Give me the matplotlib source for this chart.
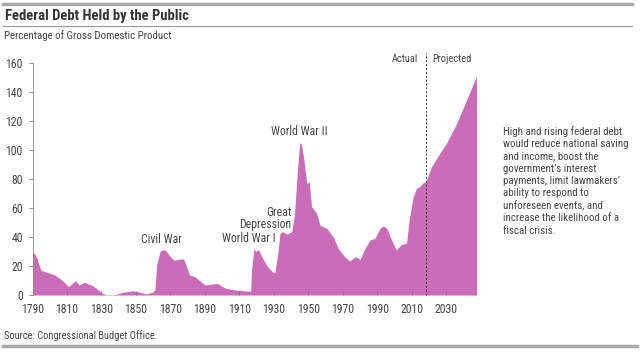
import matplotlib
matplotlib.use("Agg")
import matplotlib.pyplot as plt
from matplotlib.lines import Line2D
from matplotlib import font_manager as fm

available = {f.name for f in fm.fontManager.ttflist}
base_font = 'Roboto'
for cand in ['Roboto Condensed', 'Liberation Sans Narrow', 'Archivo Narrow', 'PT Sans Narrow',
             'Open Sans Condensed', 'Roboto']:
    if cand in available:
        base_font = cand
        break
plt.rcParams['font.family'] = [base_font, 'DejaVu Sans']

years = [1790, 1792, 1794, 1795, 1800, 1803, 1807, 1811, 1813, 1815, 1817, 1820, 1824, 1827,
         1830, 1833, 1838, 1842, 1846, 1848, 1852, 1856, 1860, 1861, 1862, 1864, 1865, 1867,
         1870, 1872, 1877, 1878, 1881, 1884, 1890, 1894, 1897, 1902, 1908, 1915, 1916.5, 1917,
         1918.4, 1919.8, 1921, 1923, 1926, 1929, 1930.6, 1932.5, 1933.5, 1935, 1937.4, 1940.3,
         1942, 1943.5, 1945, 1946, 1947.4, 1949, 1950.5, 1951.8, 1954.7, 1956.7, 1960.6,
         1964.4, 1967.3, 1971, 1974, 1977, 1980, 1982.8, 1985.7, 1988.6, 1991.5, 1993.4,
         1995.4, 1998.2, 2001, 2004, 2006.9, 2008.4, 2010.8, 2012.7, 2014.6, 2016.5, 2018,
         2021.4, 2026.2, 2030, 2036, 2041.7, 2047.5]
debt = [30, 27, 20, 17, 15, 13.8, 10.3, 5.7, 8, 9.9, 6.9, 8.7, 6.9, 4.6,
        1.4, 0.2, 0.3, 1.8, 2.5, 3, 2, 0.8, 2, 4, 21, 30, 31, 31,
        26.4, 24, 25, 24, 13.8, 12.7, 6.9, 7.5, 8, 4.6, 3.4, 2.7, 2.7, 17,
        31.7, 30, 31.5, 26.4, 20, 16, 15.5, 31, 42.5, 43.7, 42, 43.7,
        56.5, 84, 105, 104, 93, 77, 78, 61, 56.5, 48, 46,
        40, 32, 26.4, 23.4, 26.4, 24.6, 32, 38, 39, 46, 47.6,
        46, 38, 31, 35, 35.6, 51.7, 67.8, 73.6, 74.7, 77.5, 78,
        88.5, 97.7, 104.6, 118.4, 134.5, 151]

y_ticks = [0, 20, 40, 60, 80, 100, 120, 140, 160]
x_ticks = [1790, 1810, 1830, 1850, 1870, 1890, 1910, 1930, 1950, 1970, 1990, 2010, 2030]
split_year = 2018

fill_color = '#ca6cb7'
text_color = '#454545'

fig = plt.figure(figsize=(6.4, 3.56), dpi=100)
W, H = 640, 356

def fx(px):
    return px / W

def fy(py):
    return 1 - py / H

ax = fig.add_axes([fx(32.5), fy(295), fx(480) - fx(32.5), fy(63) - fy(295)])
ax.fill_between(years, debt, 0, color=fill_color, linewidth=0)
ax.set_xlim(1790, 2049.5)
ax.set_ylim(0, 160)
ax.set_yticks(y_ticks)
ax.set_xticks(x_ticks)
ax.tick_params(axis='y', length=3, width=0.6, color='#777777', labelsize=8.5,
               labelcolor=text_color, pad=4)
ax.tick_params(axis='x', direction='in', length=3, width=0.6, color='#777777',
               labelsize=8.5, labelcolor=text_color, pad=6)
for s in ['top', 'right', 'bottom']:
    ax.spines[s].set_visible(False)
ax.spines['left'].set_color('#888888')
ax.spines['left'].set_linewidth(0.6)

ax.plot([split_year, split_year], [0, 167], color='#333333', linestyle=(0, (2, 2)),
        linewidth=0.7, clip_on=False)
ax.text(2013.5, 163, "Actual", ha='right', va='center', fontsize=7.5, color=text_color)
ax.text(2021.8, 163, "Projected", ha='left', va='center', fontsize=7.5, color=text_color)

ax.text(1865, 38.6, "Civil War", ha='center', va='center', fontsize=8.5, color=text_color)
ax.text(1931, 39, "World War I", ha='right', va='center', fontsize=8.5, color=text_color)
ax.text(1940.3, 53, "Great\nDepression", ha='right', va='center', fontsize=8.5,
        color=text_color, multialignment='right', linespacing=0.9)
ax.text(1944.5, 112.6, "World War II", ha='center', va='center', fontsize=8.5, color=text_color)

fig.text(fx(5), fy(16), "Federal Debt Held by the Public", fontsize=10.5, fontweight='bold',
         color='#333333', va='center', ha='left')
fig.text(fx(4), fy(36), "Percentage of Gross Domestic Product", fontsize=7.8,
         color=text_color, va='center', ha='left')
fig.text(fx(503), fy(126), "High and rising federal debt\nwould reduce national saving\n"
         "and income, boost the\ngovernment\u2019s interest\npayments, limit lawmakers\u2019\n"
         "ability to respond to\nunforeseen events, and\nincrease the likelihood of a\nfiscal crisis.",
         fontsize=7.8, color=text_color, va='top', ha='left', linespacing=1.28)
fig.text(fx(4), fy(336), "Source: Congressional Budget Office.", fontsize=7.5,
         color=text_color, va='center', ha='left')

fig.add_artist(Line2D([fx(3), fx(632)], [fy(3.5), fy(3.5)], color='#aaaaaa', linewidth=2.5))
fig.add_artist(Line2D([fx(3), fx(632)], [fy(26), fy(26)], color='#999999', linewidth=0.8))
fig.add_artist(Line2D([fx(3), fx(637)], [fy(346), fy(346)], color='#aaaaaa', linewidth=2.5))

fig.savefig("out.png", dpi=100, facecolor='white')
